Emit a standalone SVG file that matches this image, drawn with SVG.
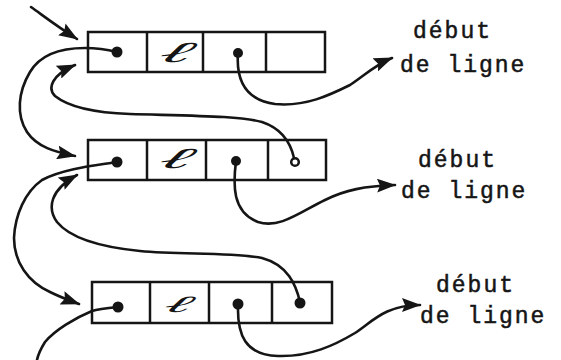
<svg xmlns="http://www.w3.org/2000/svg" width="561" height="360" viewBox="0 0 561 360">
  <defs>
    <style>
      .cell { fill: none; stroke: #151515; stroke-width: 2.5; }
      .conn { fill: none; stroke: #151515; stroke-width: 2.6; stroke-linecap: round; stroke-linejoin: round; }
      .arr { marker-end: url(#ah); }
      .dot { fill: #151515; }
      .odot { fill: #fff; stroke: #151515; stroke-width: 2.5; }
      .ell { font-family: "Liberation Serif", "DejaVu Serif", serif; font-style: italic; font-size: 40px; fill: #151515; text-anchor: middle; }
      .lbl { font-family: "Liberation Mono", "DejaVu Sans Mono", monospace; font-size: 23px; letter-spacing: 2px; fill: #151515; stroke: #151515; stroke-width: 0.5; }
    </style>
    <marker id="ah" markerUnits="userSpaceOnUse" markerWidth="19" markerHeight="14" refX="18" refY="7" orient="auto">
      <path d="M0,0 L19,7 L0,14 L3,7 Z" fill="#151515"/>
    </marker>
  </defs>
  <rect width="561" height="360" fill="#fff"/>

  <g id="node1">
    <rect class="cell" x="88" y="32" width="237" height="40"/>
    <line class="cell" x1="147" y1="32" x2="147" y2="72"/>
    <line class="cell" x1="203" y1="32" x2="203" y2="72"/>
    <line class="cell" x1="266" y1="32" x2="266" y2="72"/>
    <circle class="dot" cx="117" cy="52" r="5.5"/>
    <g transform="translate(172,62) skewX(-30) scale(1.9,0.72)"><text class="ell" x="0" y="0">ℓ</text></g>
    <circle class="dot" cx="238" cy="53" r="5"/>
  </g>

  <g id="node2">
    <rect class="cell" x="88" y="140" width="238" height="40"/>
    <line class="cell" x1="147" y1="140" x2="147" y2="180"/>
    <line class="cell" x1="206" y1="140" x2="206" y2="180"/>
    <line class="cell" x1="268" y1="140" x2="268" y2="180"/>
    <circle class="dot" cx="117" cy="162" r="5.5"/>
    <g transform="translate(172,168) skewX(-30) scale(1.9,0.72)"><text class="ell" x="0" y="0">ℓ</text></g>
    <circle class="dot" cx="236" cy="161" r="5"/>
    <circle class="odot" cx="295" cy="162" r="3.8"/>
  </g>

  <g id="node3">
    <rect class="cell" x="92" y="282" width="240" height="41"/>
    <line class="cell" x1="150" y1="282" x2="150" y2="323"/>
    <line class="cell" x1="209" y1="282" x2="209" y2="323"/>
    <line class="cell" x1="272" y1="282" x2="272" y2="323"/>
    <circle class="dot" cx="118" cy="307" r="5.5"/>
    <g transform="translate(175,312) skewX(-30) scale(1.6,0.58)"><text class="ell" x="0" y="0">ℓ</text></g>
    <circle class="dot" cx="238" cy="304" r="5.5"/>
    <circle class="dot" cx="300" cy="303" r="5.5"/>
  </g>

  <g id="label1">
    <text class="lbl" x="413" y="38">début</text>
    <text class="lbl" x="400" y="72">de ligne</text>
  </g>
  <g id="label2">
    <text class="lbl" x="418" y="167">début</text>
    <text class="lbl" x="401" y="198">de ligne</text>
  </g>
  <g id="label3">
    <text class="lbl" x="436" y="292">début</text>
    <text class="lbl" x="420" y="323">de ligne</text>
  </g>

  <g id="connectors">
    <path class="conn arr" d="M31,7 C45,17 58,27 77,39"/>
    <path class="conn arr" d="M117,52 C105,49 95,48 85,48 C60,48 40,55 30,72 C18,92 16,115 27,132 C37,147 55,152 75,156"/>
    <path class="conn arr" d="M294,158 C290,140 280,128 262,122 C240,116 200,116 130,114 C100,113 70,108 55,96 C47,88 52,75 75,65"/>
    <path class="conn arr" d="M238,53 C236,80 245,100 275,104 C305,107 330,95 350,85 C365,75 375,65 392,58"/>
    <path class="conn arr" d="M117,162 C100,165 65,168 42,180 C25,192 15,215 14,238 C14,262 28,282 50,292 C60,297 68,300 79,304"/>
    <path class="conn arr" d="M300,302 C296,285 288,265 262,258 C230,252 180,255 140,251 C100,247 70,238 57,222 C47,208 50,190 77,175"/>
    <path class="conn arr" d="M236,161 C233,185 232,212 258,222 C280,229 300,212 325,200 C345,190 365,186 395,185"/>
    <path class="conn arr" d="M238,304 C237,335 245,355 278,356 C310,357 335,345 355,333 C372,322 385,305 420,305"/>
    <path class="conn" d="M118,307 C108,308 98,309 92,311 C75,318 55,330 45,342 C40,350 38,355 37,360"/>
  </g>
</svg>
